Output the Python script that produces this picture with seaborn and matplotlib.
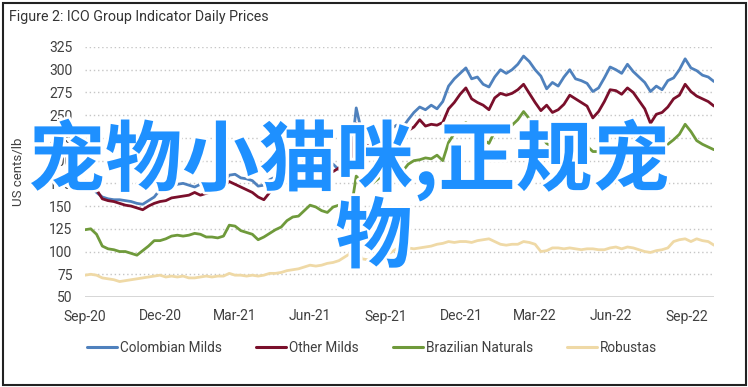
import numpy as np
import pandas as pd
import matplotlib
matplotlib.use("Agg")
import matplotlib.pyplot as plt
import matplotlib.dates as mdates
import matplotlib.patheffects as pe
from matplotlib.patches import Rectangle
from matplotlib.lines import Line2D
from matplotlib import font_manager
import seaborn as sns

# ---- data (weekly readings, US cents/lb) ----
start_date = "2020-09-01"
n_weeks = 110
colombian = [178, 172, 165, 160, 158, 157, 157, 156, 155, 153,
             152, 156, 160, 168, 172, 171, 174, 175, 173, 171,
             174, 172, 174, 173, 176, 184, 185, 181, 180, 178,
             172, 173, 179, 182, 188, 191, 197, 203, 206, 210,
             208, 205, 200, 196, 190, 192, 200, 258, 230, 226,
             226, 230, 228, 235, 239, 236, 245, 253, 259, 256,
             261, 257, 265, 282, 290, 296, 302, 290, 292, 284,
             281, 292, 300, 296, 300, 306, 315, 309, 300, 293,
             279, 286, 282, 292, 300, 290, 288, 285, 276, 280,
             291, 303, 300, 296, 306, 298, 292, 286, 276, 282,
             278, 288, 291, 300, 312, 302, 299, 294, 292, 287]
other_milds = [177, 174, 168, 158, 156, 155, 153, 151, 150, 148,
               146, 150, 153, 155, 156, 159, 160, 161, 162, 165,
               162, 164, 166, 169, 172, 177, 174, 171, 168, 165,
               160, 157, 165, 172, 179, 183, 186, 190, 192, 190,
               193, 191, 190, 188, 192, 193, 196, 241, 220, 216,
               218, 221, 223, 224, 222, 224, 233, 237, 245, 238,
               240, 239, 242, 257, 264, 273, 280, 268, 264, 261,
               256, 269, 274, 272, 274, 278, 284, 274, 264, 255,
               261, 253, 256, 262, 272, 268, 264, 260, 247, 254,
               265, 278, 277, 273, 280, 275, 266, 257, 241, 251,
               253, 259, 268, 272, 284, 276, 271, 268, 265, 260]
brazilian = [124, 125, 119, 106, 103, 102, 100, 100, 98, 96,
             101, 106, 112, 112, 114, 117, 118, 117, 118, 120,
             119, 116, 116, 115, 117, 129, 128, 123, 121, 119,
             113, 116, 120, 124, 127, 134, 138, 139, 145, 151,
             149, 145, 143, 149, 151, 143, 142, 183, 176, 175,
             176, 181, 184, 185, 184, 188, 196, 200, 201, 203,
             202, 206, 200, 220, 230, 234, 242, 234, 234, 223,
             219, 232, 237, 237, 239, 245, 254, 246, 234, 227,
             219, 215, 212, 228, 235, 226, 222, 216, 210, 210,
             218, 232, 236, 230, 233, 230, 220, 210, 204, 208,
             215, 218, 223, 229, 240, 232, 222, 218, 215, 212]
robustas = [74, 75, 74, 71, 70, 69, 67, 68, 69, 70,
            71, 72, 73, 74, 72, 73, 72, 73, 71, 71,
            72, 73, 72, 73, 73, 76, 74, 74, 73, 74,
            73, 74, 76, 76, 77, 79, 80, 81, 83, 85,
            84, 85, 87, 88, 90, 94, 98, 105, 92, 91,
            93, 95, 96, 99, 103, 105, 104, 103, 104, 105,
            106, 108, 109, 111, 110, 111, 111, 110, 112, 113,
            114, 111, 108, 107, 108, 108, 111, 110, 108, 100,
            101, 104, 104, 103, 104, 103, 102, 103, 103, 102,
            102, 104, 105, 103, 105, 104, 102, 100, 99, 101,
            102, 104, 111, 113, 114, 111, 114, 112, 111, 107]
series_names = ["Colombian Milds", "Other Milds", "Brazilian Naturals", "Robustas"]
series_colors = ["#4f81bd", "#7a0f2b", "#6f9a3b", "#efd9a6"]
y_ticks = [50, 75, 100, 125, 150, 175, 200, 225, 250, 275, 300, 325]
title_text = "Figure 2: ICO Group Indicator Daily Prices"
y_label = "US cents/lb"
watermark_line1 = "宠物小猫咪,正规宠"
watermark_line2 = "物"

dates = pd.date_range(start_date, periods=n_weeks, freq="7D")
df = pd.concat([
    pd.DataFrame({"date": dates, "price": vals, "series": name})
    for name, vals in zip(series_names, [colombian, other_milds, brazilian, robustas])
])

sns.set_style("white")
installed = {f.name for f in font_manager.fontManager.ttflist}
base_font = "Liberation Sans Narrow" if "Liberation Sans Narrow" in installed else "Roboto"
plt.rcParams["font.family"] = [base_font, "DejaVu Sans"]

W, H = 748, 387
fig = plt.figure(figsize=(W / 100, H / 100), dpi=100)
ax = fig.add_axes([85 / W, 1 - 297 / H, (714 - 85) / W, (297 - 47) / H])

palette = dict(zip(series_names, series_colors))
sns.lineplot(data=df, x="date", y="price", hue="series", hue_order=series_names,
             palette=palette, linewidth=2.0, ax=ax, legend=False)

ax.set_xlim(dates[0], dates[-1])
ax.set_ylim(50, 325)
ax.set_yticks(y_ticks)
for y in y_ticks[1:]:
    ax.axhline(y, color="#c6c6c6", linestyle=(0, (1, 2)), linewidth=1.0, zorder=0)
ax.axhline(50, color="#d0d0d0", linewidth=1.2, zorder=0)
for s in ax.spines.values():
    s.set_visible(False)

ax.xaxis.set_major_locator(mdates.MonthLocator(bymonth=[3, 6, 9, 12]))
ax.xaxis.set_major_formatter(mdates.DateFormatter("%b-%y"))
ax.tick_params(axis="both", length=0, labelsize=10, colors="#404040", pad=9)
ax.tick_params(axis="x", pad=9)
ax.set_xlabel("")
ax.set_ylabel(y_label, fontsize=9.5, color="#404040")
ax.yaxis.set_label_coords(-0.096, 0.5)

# legend
handles = [Line2D([0], [0], color=c, lw=2.2) for c in series_colors]
fig.legend(handles, series_names, loc="center", bbox_to_anchor=(372 / W, 1 - 348 / H),
           ncol=4, frameon=False, fontsize=9.8, handlelength=2.2, handletextpad=0.22,
           columnspacing=2.5, labelcolor="#404040")

# title
fig.text(9 / W, 1 - 17 / H, title_text, fontsize=10.3, color="#333333", va="center", ha="left")

# border
fig.patches.append(Rectangle((2.5 / W, 2.5 / H), (W - 5) / W, (H - 5) / H,
                             transform=fig.transFigure, fill=False, edgecolor="#222222",
                             linewidth=1.5))

# watermark
wm_style = dict(fontsize=55.5, color="#1e90ff", ha="center", va="center", fontweight="bold",
                family=["Noto Sans CJK SC", "DejaVu Sans"],
                path_effects=[pe.withStroke(linewidth=4, foreground="white")], zorder=10)
fig.text(349 / W, 1 - 160 / H, watermark_line1, **wm_style)
fig.text(374 / W, 1 - 239 / H, watermark_line2, **wm_style)

fig.savefig("out.png", dpi=100)
